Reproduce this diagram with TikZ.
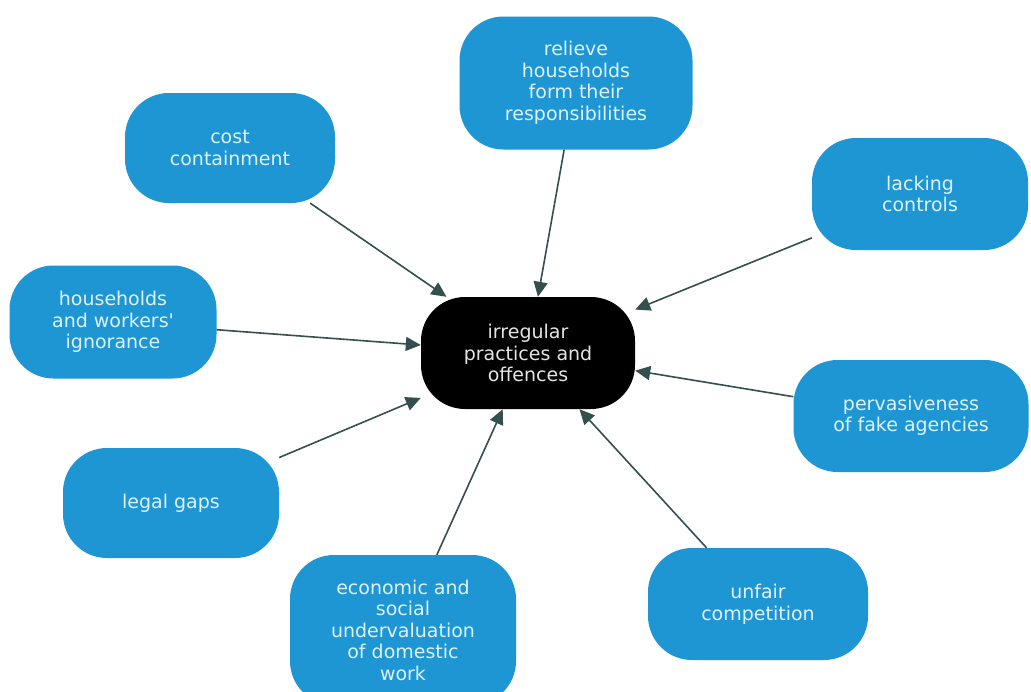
\documentclass[tikz,border=0pt]{standalone}
\usepackage{fontspec}
% plain family: no TeX ligature mapping, so ' stays a straight quote
\newfontfamily\labelfont{DejaVu Sans}
\usetikzlibrary{arrows.meta}
\definecolor{causeblue}{HTML}{1E96D3}
\definecolor{causetext}{HTML}{DDF2FB}
\definecolor{linkgrey}{HTML}{34504E}
\definecolor{coretext}{HTML}{E4E4E4}
\begin{document}
\begin{tikzpicture}[x=1pt,y=-1pt,
  cause/.style={draw=none, fill=causeblue, rounded corners=44pt, inner sep=0pt,
    align=center, text=causetext,
    font=\labelfont\fontsize{19}{21.5}\selectfont},
  core/.style={cause, fill=black, text=coretext},
  link/.style={draw=linkgrey, line width=1.6pt,
    -{Triangle[length=15pt,width=14pt]}}]
\useasboundingbox[fill=white] (0,0) rectangle (1031,691);

\node[core, minimum width=214pt, minimum height=112pt] (core) at (528,353)
  {irregular\\practices and\\offences};

\node[cause, minimum width=233pt, minimum height=133pt] (relieve) at (576,83)
  {relieve\\households\\form their\\responsibilities};
\node[cause, minimum width=210pt, minimum height=110pt] (cost) at (230,148)
  {cost\\containment};
\node[cause, minimum width=216pt, minimum height=112pt] (lacking) at (920,194)
  {lacking\\controls};
\node[cause, minimum width=207pt, minimum height=113pt] (ignorance) at (113,322)
  {households\\and workers'\\ignorance};
\node[cause, minimum width=235pt, minimum height=112pt] (fake) at (911,416)
  {pervasiveness\\of fake agencies};
\node[cause, minimum width=216pt, minimum height=110pt] (legal) at (171,503)
  {legal gaps};
\node[cause, minimum width=226pt, minimum height=150pt] (econ) at (403,630)
  {economic and\\social\\undervaluation\\of domestic\\work};
\node[cause, minimum width=220pt, minimum height=112pt] (unfair) at (758,604)
  {unfair\\competition};

\foreach \src in {relieve,cost,lacking,ignorance,fake,legal,econ,unfair}
  \draw[link] (\src) -- (core);
\end{tikzpicture}
\end{document}
